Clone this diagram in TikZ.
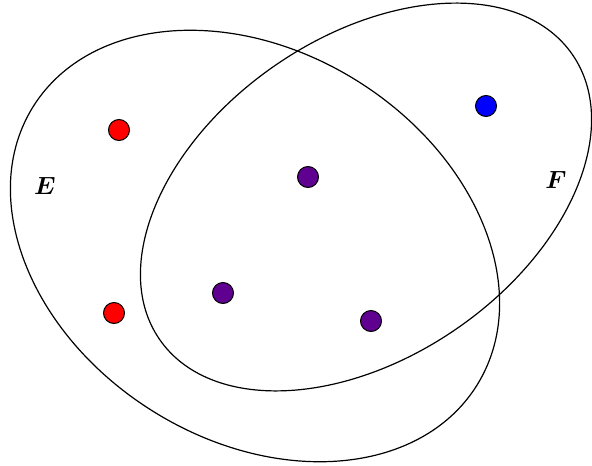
\documentclass[tikz,border=0pt]{standalone}
\usepackage{amsmath,bm}
\definecolor{dotpurple}{RGB}{95,0,145}
\definecolor{dotred}{RGB}{255,0,0}
\definecolor{dotblue}{RGB}{0,0,255}
\begin{document}
\begin{tikzpicture}[x=1pt,y=-1pt,
  setline/.style={line width=1.2pt, black},
  dot/.style={circle, draw=black, line width=1pt, minimum size=21pt, inner sep=0pt},
  lbl/.style={font=\fontsize{24}{24}\selectfont}]
\useasboundingbox (0,0) rectangle (592,466);
% set E
\draw[setline, rotate around={-32.3:(255,246)}] (255,246) ellipse [x radius=262, y radius=194.2];
% set F
\draw[setline, rotate around={34.6:(366,197)}] (366,197) ellipse [x radius=250.8, y radius=159.9];
\node[dot, fill=dotred] (r1) at (119,130) {};
\node[dot, fill=dotred] (r2) at (114,313) {};
\node[dot, fill=dotpurple] (p1) at (308,177) {};
\node[dot, fill=dotpurple] (p2) at (223,293) {};
\node[dot, fill=dotpurple] (p3) at (371,321) {};
\node[dot, fill=dotblue] (b1) at (486,106) {};
\node[lbl] (E) at (45,186) {$\bm{E}$};
\node[lbl] (F) at (556,180) {$\bm{F}$};
\end{tikzpicture}
\end{document}
